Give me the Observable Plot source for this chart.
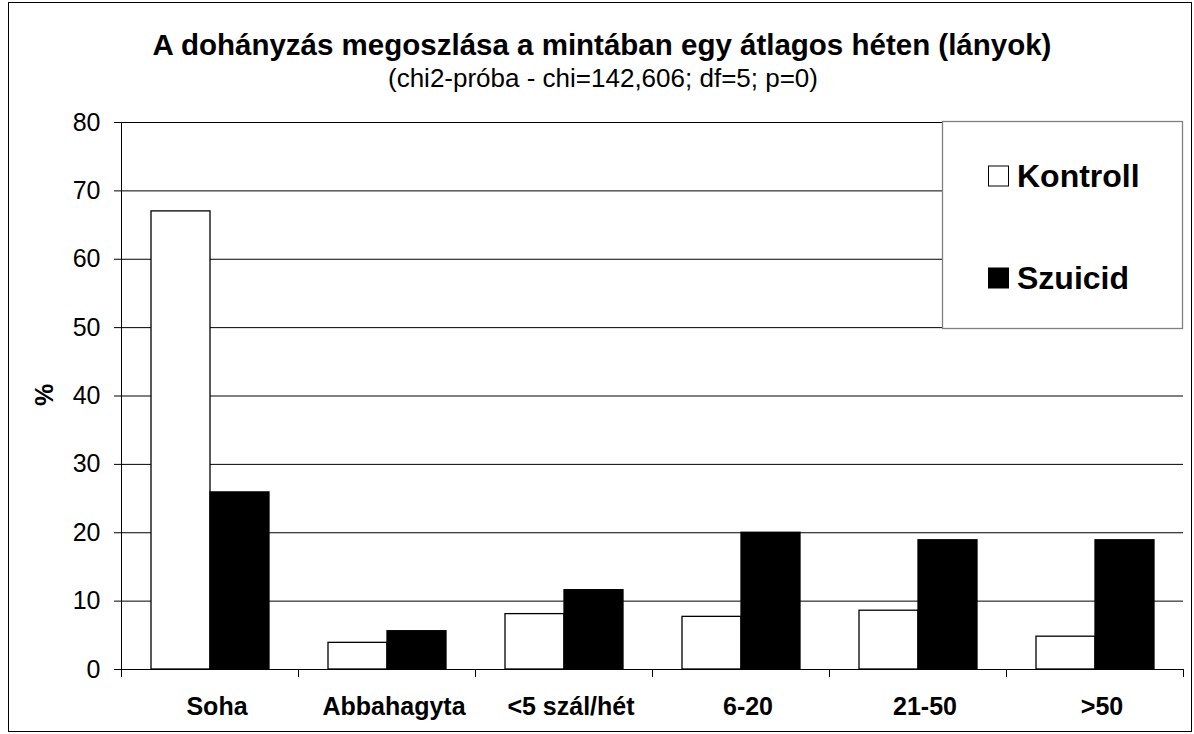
<!DOCTYPE html>
<html>
<head>
<meta charset="utf-8">
<script src="https://cdn.jsdelivr.net/npm/d3@7"></script>
<script src="https://cdn.jsdelivr.net/npm/@observablehq/plot@0.6"></script>
<style>
  html, body { margin: 0; padding: 0; background: #fff; }
  #wrap { position: relative; width: 1194px; height: 734px; font-family: Arial, "Liberation Sans", sans-serif; }
  #wrap svg { position: absolute; left: 0; top: 0; }
</style>
</head>
<body>
<div id="wrap"></div>
<script>
const title = "A dohányzás megoszlása a mintában egy átlagos héten (lányok)";
const subtitle = "(chi2-próba - chi=142,606; df=5; p=0)";
const yLabel = "%";
const categories = ["Soha", "Abbahagyta", "<5 szál/hét", "6-20", "21-50", ">50"];
const series = ["Kontroll", "Szuicid"];
const kontroll = [67, 3.9, 8.1, 7.7, 8.6, 4.8];
const szuicid = [25.9, 5.6, 11.6, 20, 18.9, 18.9];
const yTicks = [0, 10, 20, 30, 40, 50, 60, 70, 80];
const seriesColors = ["#ffffff", "#000000"];

const data = categories.flatMap((c, i) => [
  {category: c, series: series[0], value: kontroll[i]},
  {category: c, series: series[1], value: szuicid[i]}
]);

const W = 1194, H = 734, mT = 122, mB = 65, mL = 121, mR = 11;
const plotH = H - mT - mB;

const chart = Plot.plot({
  width: W, height: H,
  marginLeft: mL, marginRight: mR, marginTop: mT, marginBottom: mB,
  style: {fontFamily: "Arial, 'Liberation Sans', sans-serif", background: "transparent", color: "#000", overflow: "visible"},
  fx: {domain: categories, paddingInner: 0, paddingOuter: 0, label: null, axis: null},
  x: {domain: series, paddingInner: 0, paddingOuter: 0.49, axis: null},
  y: {domain: [0, 80], label: null},
  color: {domain: series, range: seriesColors},
  marks: [
    Plot.ruleY(yTicks.slice(1), {stroke: "#000", strokeWidth: 1}),
    Plot.barY(data, {fx: "category", x: "series", y: "value", fill: "series", stroke: "#000", strokeWidth: 1.3}),
    Plot.ruleY([0], {stroke: "#000", strokeWidth: 1.2}),
    Plot.frame({anchor: "left", insetTop: plotH, insetBottom: -7, stroke: "#000"}),
    Plot.frame({anchor: "right", insetTop: plotH, insetBottom: -7, stroke: "#000"}),
    Plot.frame({anchor: "left", facet: "super", stroke: "#000"}),
    Plot.axisY({ticks: yTicks, tickSize: 7, tickPadding: 14, fontSize: 25, label: null, stroke: "#000"}),
    Plot.axisFx({anchor: "bottom", tickSize: 0, tickPadding: 28, fontSize: 25, fontWeight: "bold", dx: 7, label: null})
  ]
});
document.getElementById("wrap").appendChild(chart);

// Decorations: border, title, subtitle, axis label, legend
const svg = d3.select("#wrap").append("svg")
  .attr("width", W).attr("height", H)
  .style("font-family", "Arial, 'Liberation Sans', sans-serif")
  .style("pointer-events", "none");

svg.append("rect").attr("x", 8.5).attr("y", 2.5).attr("width", 1183).attr("height", 729)
  .attr("fill", "none").attr("stroke", "#000").attr("stroke-width", 1);

svg.append("text").attr("x", 602).attr("y", 55).attr("text-anchor", "middle")
  .attr("font-size", 29.5).attr("font-weight", "bold").text(title);
svg.append("text").attr("x", 603).attr("y", 87).attr("text-anchor", "middle")
  .attr("font-size", 26).text(subtitle);

svg.append("text").attr("transform", "translate(53,395) rotate(-90)").attr("text-anchor", "middle")
  .attr("font-size", 25).attr("font-weight", "bold").text(yLabel);

const lg = svg.append("g");
lg.append("rect").attr("x", 942.5).attr("y", 121.5).attr("width", 240).attr("height", 207)
  .attr("fill", "#fff").attr("stroke", "#808080").attr("stroke-width", 1.3);
const rowsY = [176, 278];
series.forEach((s, i) => {
  lg.append("rect").attr("x", 988.5).attr("y", rowsY[i] - 10).attr("width", 20).attr("height", 20)
    .attr("fill", seriesColors[i]).attr("stroke", "#000").attr("stroke-width", 1);
  lg.append("text").attr("x", 1017).attr("y", rowsY[i] + 11).attr("font-size", 32)
    .attr("font-weight", "bold").text(s);
});
</script>
</body>
</html>
